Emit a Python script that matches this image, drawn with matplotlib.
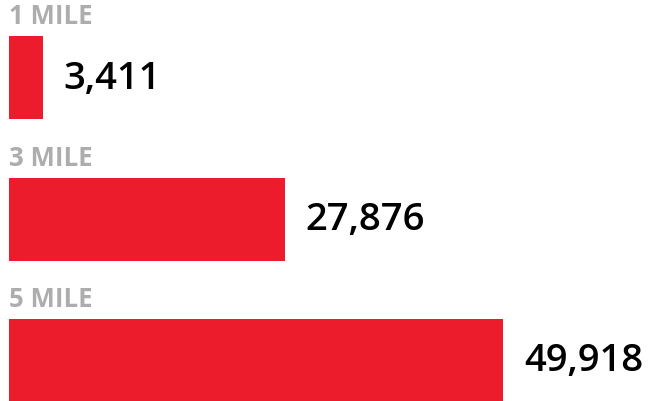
import numpy as np
import matplotlib
matplotlib.use('Agg')
import matplotlib.pyplot as plt

# datos
categorias = ['1 MILE', '3 MILE', '5 MILE']
valores = [3411, 27876, 49918]
etiquetas = ['3,411', '27,876', '49,918']

rojo = '#ec1c2d'
gris = '#adadad'

fig = plt.figure(figsize=(6.48, 4.02), dpi=100)
ax = fig.add_axes([0, 0, 1, 1])

y = np.arange(len(categorias))
alto = 83 / 141.5
ax.barh(y, valores, height=alto, color=rojo, align='center')

# escala aprox: 494 px para el valor maximo, origen en px 9
k = max(valores) / 494.0
ax.set_xlim(-9 * k, 639 * k)
ax.set_ylim((402 - 78.5) / 141.5, -78.5 / 141.5)

for i in range(len(categorias)):
    # etiqueta de categoria arriba de la barra
    ax.annotate(categorias[i], xy=(0, y[i] - alto / 2), xytext=(0, 5),
                textcoords='offset points', ha='left', va='bottom',
                fontsize=18.5, fontweight='bold', color=gris, family='Open Sans')
    # valor a la derecha
    ax.annotate(etiquetas[i], xy=(valores[i], y[i]), xytext=(15, 0),
                textcoords='offset points', ha='left', va='center',
                fontsize=27.5, fontweight='semibold', color='black', family='Open Sans')

ax.axis('off')
fig.savefig('out.png', dpi=100)
